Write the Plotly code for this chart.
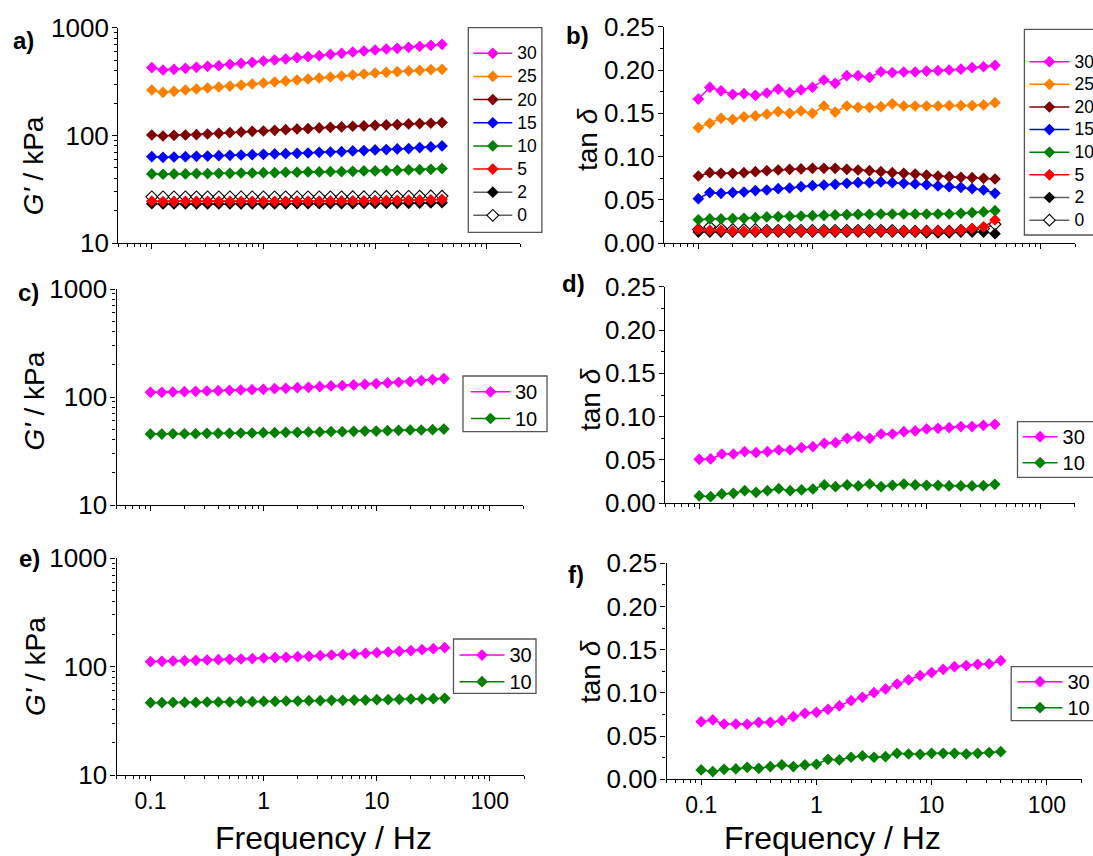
import plotly.graph_objects as go

# ---------------- data ----------------
freq = [0.1, 0.126, 0.158, 0.2, 0.251, 0.316, 0.398, 0.501, 0.631, 0.794,
        1.0, 1.26, 1.58, 2.0, 2.51, 3.16, 3.98, 5.01, 6.31, 7.94,
        10.0, 12.6, 15.8, 20.0, 25.1, 31.6, 39.8]

series_names = ["0", "2", "5", "10", "15", "20", "25", "30"]

# panel a: G' (kPa)
a_30 = [425.7, 405, 410.8, 419.7, 428.7, 437.9, 444.2, 457.1, 467, 477, 490.8, 501.4, 512.2,
        527, 538.4, 550, 565.9, 578, 595, 607.8, 621, 634.3, 643.3, 657.3, 671.5, 686, 700.5]
a_25 = [264.2, 251.3, 256.8, 264.2, 269.9, 275.8, 281.8, 287.7, 293.9, 300.3, 306.8, 313.4, 320.2,
        327.2, 334.2, 341.4, 348.8, 356.4, 364.1, 371.9, 380, 385.4, 390.9, 396.5, 402.2, 407.9, 410.8]
a_20 = [101.1, 98.9, 100.4, 101.1, 101.8, 103.3, 104.8, 106.3, 107.8, 109.4, 110.1, 111.7, 113.3,
        114.9, 115.8, 117.5, 119.2, 120.0, 121.8, 122.7, 124.4, 125.3, 126.2, 128.0, 128.9, 129.9, 131.7]
a_15 = [63.6, 62.7, 63.2, 63.6, 64.1, 64.5, 65.0, 65.5, 65.9, 66.4, 66.9, 67.4, 67.8,
        68.3, 68.8, 69.8, 70.3, 70.8, 71.9, 72.4, 73.5, 74.0, 75.1, 75.6, 77.3, 78.4, 80.1]
a_10 = [44.0, 43.7, 44.0, 44.0, 44.3, 44.3, 44.6, 44.6, 44.9, 44.9, 45.2, 45.2, 45.6,
        45.6, 45.9, 45.9, 46.2, 46.2, 46.5, 46.9, 46.9, 47.2, 47.5, 47.9, 48.2, 48.6, 49.3]
a_5 = [24.6, 24.4, 24.5, 24.5, 24.5, 24.5, 24.5, 24.5, 24.5, 24.5, 24.5, 24.5, 24.5,
       24.6, 24.6, 24.6, 24.7, 24.7, 24.8, 24.8, 24.9, 24.9, 25.0, 25.1, 25.2, 25.3, 25.5]
a_2 = [23.3, 23.2, 23.2, 23.2, 23.2, 23.2, 23.2, 23.2, 23.2, 23.2, 23.2, 23.2, 23.2,
       23.3, 23.3, 23.3, 23.3, 23.3, 23.3, 23.4, 23.4, 23.4, 23.5, 23.5, 23.6, 23.7, 23.8]
a_0 = [27.0, 27.0, 27.0, 27.0, 27.0, 27.0, 27.0, 27.0, 27.0, 27.0, 27.0, 27.0, 27.0,
       27.0, 27.0, 27.0, 27.0, 27.0, 27.1, 27.1, 27.1, 27.2, 27.2, 27.3, 27.4, 27.5, 27.4]

# panel b: tan delta
b_30 = [0.1665, 0.180, 0.176, 0.172, 0.1727, 0.1708, 0.1735, 0.178, 0.1738, 0.177, 0.180, 0.1885, 0.1846,
        0.1935, 0.1935, 0.1915, 0.198, 0.197, 0.1977, 0.1977, 0.1988, 0.1992, 0.200, 0.201, 0.2027, 0.2038, 0.2054]
b_25 = [0.1335, 0.1385, 0.1442, 0.143, 0.146, 0.147, 0.149, 0.152, 0.150, 0.1527, 0.150, 0.1585, 0.1515,
        0.1585, 0.157, 0.157, 0.1577, 0.161, 0.1585, 0.1585, 0.1585, 0.1585, 0.159, 0.159, 0.159, 0.1596, 0.1623]
b_20 = [0.0777, 0.0815, 0.0808, 0.0808, 0.0815, 0.0827, 0.0838, 0.0846, 0.0854, 0.0858, 0.0865, 0.0865, 0.0865,
        0.0854, 0.0846, 0.0838, 0.0827, 0.0815, 0.0808, 0.0800, 0.0788, 0.0777, 0.0769, 0.0762, 0.0758, 0.0750, 0.0742]
b_15 = [0.0515, 0.0585, 0.0577, 0.0585, 0.0592, 0.0608, 0.0615, 0.0631, 0.0638, 0.0654, 0.0665, 0.0673, 0.0681,
        0.0692, 0.0700, 0.0700, 0.0708, 0.0700, 0.0692, 0.0685, 0.0677, 0.0662, 0.0654, 0.0646, 0.0631, 0.0615, 0.0577]
b_10 = [0.0272, 0.0281, 0.0281, 0.0285, 0.0288, 0.0296, 0.0304, 0.0308, 0.0312, 0.0315, 0.0319, 0.0323, 0.0327,
        0.0331, 0.0335, 0.0335, 0.0338, 0.0338, 0.0338, 0.0338, 0.0338, 0.0338, 0.0338, 0.0346, 0.0354, 0.0362, 0.0377]
b_5 = [0.016, 0.015, 0.015, 0.014, 0.014, 0.014, 0.014, 0.014, 0.014, 0.014, 0.014, 0.014, 0.014,
       0.014, 0.014, 0.014, 0.014, 0.014, 0.014, 0.014, 0.014, 0.014, 0.014, 0.015, 0.017, 0.019, 0.027]
b_2 = [0.013, 0.013, 0.013, 0.013, 0.013, 0.013, 0.013, 0.013, 0.013, 0.013, 0.013, 0.013, 0.013,
       0.013, 0.013, 0.013, 0.013, 0.013, 0.013, 0.013, 0.012, 0.012, 0.012, 0.013, 0.013, 0.013, 0.011]
b_0 = [0.016, 0.019, 0.017, 0.016, 0.016, 0.016, 0.015, 0.015, 0.015, 0.015, 0.015, 0.015, 0.015,
       0.015, 0.015, 0.015, 0.015, 0.015, 0.014, 0.014, 0.014, 0.014, 0.014, 0.015, 0.016, 0.017, 0.022]

# panel c: G'
c_30 = [110.5, 110.5, 111.3, 112.1, 112.9, 113.7, 114.5, 115.3, 116.1, 117.0, 117.8, 119.5, 120.4,
        122.1, 123.0, 124.7, 126.5, 127.4, 129.3, 131.1, 133.0, 134.9, 136.9, 138.8, 141.8, 144.9, 148.0]
c_10 = [45.4, 45.4, 45.7, 45.7, 45.7, 46.1, 46.1, 46.1, 46.4, 46.4, 46.7, 46.7, 47.1,
        47.1, 47.4, 47.4, 47.7, 47.7, 48.1, 48.4, 48.4, 48.8, 49.1, 49.5, 49.5, 49.8, 50.5]

# panel d: tan delta
d_30 = [0.0508, 0.0512, 0.0569, 0.0569, 0.0596, 0.0585, 0.0596, 0.0615, 0.0615, 0.0642, 0.0654, 0.0692, 0.0700,
        0.0750, 0.0769, 0.0750, 0.0800, 0.0800, 0.0827, 0.0835, 0.0858, 0.0865, 0.0873, 0.0885, 0.0885, 0.0900, 0.0912]
d_10 = [0.0085, 0.0077, 0.0108, 0.0115, 0.0146, 0.0127, 0.0146, 0.0169, 0.0146, 0.0154, 0.0165, 0.0212, 0.0192,
        0.0212, 0.0200, 0.0223, 0.0192, 0.0208, 0.0223, 0.0212, 0.0208, 0.0208, 0.0200, 0.0200, 0.0200, 0.0204, 0.0219]

# panel e: G'
e_30 = [111.2, 112.0, 112.8, 113.6, 114.4, 115.2, 116.0, 116.8, 117.7, 118.5, 120.2, 121.1, 121.9,
        123.7, 124.5, 126.3, 128.1, 129.0, 130.8, 132.7, 134.6, 136.5, 138.5, 140.4, 143.5, 146.6, 149.8]
e_10 = [46.5, 46.5, 46.8, 46.8, 46.8, 47.2, 47.2, 47.2, 47.5, 47.5, 47.8, 47.8, 48.2,
        48.2, 48.5, 48.5, 48.9, 48.9, 49.2, 49.2, 49.6, 49.6, 49.9, 50.3, 50.3, 50.6, 51.0]

# panel f: tan delta
f_30 = [0.0667, 0.0687, 0.0640, 0.0640, 0.0637, 0.0660, 0.0660, 0.0679, 0.0725, 0.0764, 0.0775, 0.0810, 0.0849,
        0.0910, 0.0949, 0.1003, 0.1046, 0.1103, 0.1150, 0.1200, 0.1235, 0.1273, 0.1304, 0.1316, 0.1331, 0.1335, 0.1373]
f_10 = [0.0108, 0.0089, 0.0116, 0.0120, 0.0139, 0.0127, 0.0147, 0.0166, 0.0147, 0.0166, 0.0174, 0.0231, 0.0224,
        0.0255, 0.0270, 0.0255, 0.0262, 0.0301, 0.0293, 0.0289, 0.0301, 0.0301, 0.0301, 0.0293, 0.0301, 0.0309, 0.0320]

panel_letters = ["a)", "b)", "c)", "d)", "e)", "f)"]

# ---------------- styles ----------------
W, H = 1093, 856
FONT = "Arial, Liberation Sans, sans-serif"
styles = {
    "30": dict(line="#FF00FF", fill="#FF00FF"),
    "25": dict(line="#FF8000", fill="#FF8000"),
    "20": dict(line="#800000", fill="#800000"),
    "15": dict(line="#0000FF", fill="#0000FF"),
    "10": dict(line="#008000", fill="#008000"),
    "5": dict(line="#FF0000", fill="#FF0000"),
    "2": dict(line="#606060", fill="#000000"),
    "0": dict(line="#606060", fill="#FFFFFF"),
}

def fx(px):
    return px / W

def fy(py):
    return 1 - py / H

# panel geometry in pixels: x-domain, y-domain (top, bottom)
panels = [
    dict(x=(118.2, 520.3), y=(27.7, 243.3), kind="g"),
    dict(x=(664.0, 1075.0), y=(26.7, 243.3), kind="t"),
    dict(x=(116.5, 523.0), y=(289.0, 505.0), kind="g"),
    dict(x=(665.0, 1074.5), y=(286.7, 503.3), kind="t"),
    dict(x=(116.5, 524.0), y=(558.3, 775.0), kind="g"),
    dict(x=(666.5, 1081.5), y=(563.3, 779.3), kind="t"),
]

# legend: left x, top y, spacing font size, glyph size, itemwidth; frame rect
legends = [
    dict(x=468.3, y=36.7, fs=15.5, gs=17.5, iw=39, box=(468.3, 541.9, 27.7, 232.3)),
    dict(x=1024.4, y=45.4, fs=15.1, gs=17.5, iw=40, box=(1024.4, 1110, 29.3, 235.0)),
    dict(x=466.0, y=373.5, fs=18.2, gs=20, iw=39, box=(463.0, 547.0, 376.0, 431.7)),
    dict(x=1017.6, y=418.7, fs=17.7, gs=20, iw=35, box=(1017.5, 1110, 421.7, 477.3)),
    dict(x=454.5, y=636.7, fs=18.2, gs=20, iw=45, box=(453.5, 536.0, 639.0, 693.3)),
    dict(x=1012.5, y=663.7, fs=17.7, gs=20, iw=45, box=(1011.2, 1110, 666.7, 720.7)),
]

panel_data = [
    {"0": a_0, "2": a_2, "5": a_5, "10": a_10, "15": a_15, "20": a_20, "25": a_25, "30": a_30},
    {"0": b_0, "2": b_2, "5": b_5, "10": b_10, "15": b_15, "20": b_20, "25": b_25, "30": b_30},
    {"10": c_10, "30": c_30},
    {"10": d_10, "30": d_30},
    {"10": e_10, "30": e_30},
    {"10": f_10, "30": f_30},
]

fig = go.Figure()
layout = dict(
    width=W, height=H,
    margin=dict(l=0, r=0, t=0, b=0, autoexpand=False),
    paper_bgcolor="white", plot_bgcolor="white",
    font=dict(family=FONT, color="black"),
    showlegend=True,
)

shapes = []
annotations = []

for i, (p, lg, data) in enumerate(zip(panels, legends, panel_data)):
    n = i + 1
    xa = "xaxis" if n == 1 else f"xaxis{n}"
    ya = "yaxis" if n == 1 else f"yaxis{n}"
    xr = "x" if n == 1 else f"x{n}"
    yr = "y" if n == 1 else f"y{n}"
    lgname = "legend" if n == 1 else f"legend{n}"
    bottom = n in (5, 6)

    for name in series_names:
        if name not in data:
            continue
        st = styles[name]
        fig.add_trace(go.Scatter(
            x=freq, y=data[name],
            name=f"<span style='font-size:{lg['gs']}px'>{name}</span>",
            mode="lines+markers",
            xaxis=xr, yaxis=yr, legend=lgname,
            line=dict(color=st["line"], width=1.5),
            marker=dict(symbol="diamond", size=9, color=st["fill"],
                        line=dict(color="black", width=1.1 if name == "0" else 0)),
            cliponaxis=False,
        ))

    layout[xa] = dict(
        domain=[fx(p["x"][0]), fx(p["x"][1])], anchor=yr,
        type="log", range=[-1.30103, 2.30103],
        tickmode="linear", tick0=0, dtick=1,
        showticklabels=bottom, exponentformat="none",
        tickfont=dict(size=23, family=FONT, color="black"),
        ticks="outside", ticklen=5, tickwidth=1.2, tickcolor="black",
        minor=dict(ticks="outside", ticklen=3, tickwidth=1, tickcolor="black", dtick="D1"),
        showline=True, linecolor="black", linewidth=1.3,
        showgrid=False, zeroline=False, mirror=False,
    )
    ydom = [fy(p["y"][1]), fy(p["y"][0])]
    common_y = dict(
        domain=ydom, anchor=xr,
        tickfont=dict(size=26, family=FONT, color="black"),
        ticks="outside", ticklen=5, tickwidth=1.2, tickcolor="black",
        ticklabelstandoff=-2,
        showline=True, linecolor="black", linewidth=1.3,
        showgrid=False, zeroline=False,
    )
    if p["kind"] == "g":
        layout[ya] = dict(
            type="log", range=[1, 3],
            tickmode="linear", tick0=0, dtick=1, exponentformat="none",
            minor=dict(ticks="outside", ticklen=3, tickwidth=1, tickcolor="black", dtick="D1"),
            **common_y,
        )
    else:
        layout[ya] = dict(
            range=[0, 0.25],
            tickmode="linear", tick0=0, dtick=0.05, tickformat=".2f",
            minor=dict(ticks="outside", ticklen=3, tickwidth=1, tickcolor="black", dtick=0.025),
            **common_y,
        )

    layout[lgname] = dict(
        x=fx(lg["x"]), y=fy(lg["y"]), xanchor="left", yanchor="top",
        bgcolor="rgba(0,0,0,0)", borderwidth=0,
        font=dict(size=lg["fs"], family=FONT, color="black"),
        itemwidth=lg["iw"], traceorder="reversed", tracegroupgap=0,
    )
    bx0, bx1, by0, by1 = lg["box"]
    shapes.append(dict(type="rect", xref="paper", yref="paper",
                       x0=fx(bx0), x1=fx(bx1), y0=fy(by1), y1=fy(by0),
                       line=dict(color="#555555", width=1.3), fillcolor="rgba(0,0,0,0)"))

# panel letters
letter_pos = [(23.3, 41), (577, 36), (28, 292), (573.4, 283.3), (29.8, 558.3), (576, 574)]
for txt, (px, py) in zip(panel_letters, letter_pos):
    annotations.append(dict(text=f"<b>{txt}</b>", x=fx(px), y=fy(py), xref="paper", yref="paper",
                            xanchor="center", yanchor="middle", showarrow=False,
                            font=dict(size=24, family=FONT, color="black")))

# y titles
ytitle_pos = [(33.3, 166, "g"), (588, 140, "t"), (33.5, 401, "g"), (590, 400, "t"), (35, 667, "g"), (590, 672, "t")]
for px, py, kind in ytitle_pos:
    txt = "<i>G'</i> / kPa" if kind == "g" else "tan <i>δ</i>"
    annotations.append(dict(text=txt, x=fx(px), y=fy(py), xref="paper", yref="paper",
                            xanchor="center", yanchor="middle", textangle=-90, showarrow=False,
                            font=dict(size=28, family=FONT, color="black")))

# x titles
for px, py in [(323.7, 838), (832, 838)]:
    annotations.append(dict(text="Frequency / Hz", x=fx(px), y=fy(py), xref="paper", yref="paper",
                            xanchor="center", yanchor="middle", showarrow=False,
                            font=dict(size=32, family=FONT, color="black")))

layout["shapes"] = shapes
layout["annotations"] = annotations
fig.update_layout(**layout)
fig.write_html("out.html", config={"displayModeBar": False},
               post_script="document.body.style.margin='0px';")
